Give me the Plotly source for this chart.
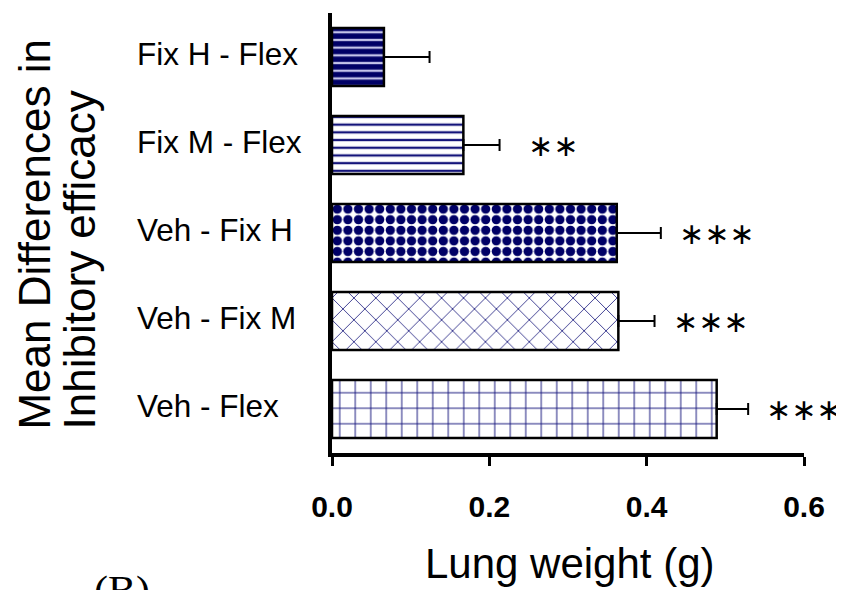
import plotly.graph_objects as go

categories = ["Fix H - Flex", "Fix M - Flex", "Veh - Fix H", "Veh - Fix M", "Veh - Flex"]
means = [0.066, 0.167, 0.362, 0.364, 0.489]
errors = [0.058, 0.046, 0.056, 0.046, 0.040]
significance = ["", "\u2217\u2217", "\u2217\u2217\u2217", "\u2217\u2217\u2217", "\u2217\u2217\u2217"]
x_ticks = [0.0, 0.2, 0.4, 0.6]
x_tick_labels = ["0.0", "0.2", "0.4", "0.6"]
y_title_lines = ["Mean Differences in", "Inhibitory efficacy"]

NAVY = "#000066"
pat_shapes = ["-", "-", ".", "x", "+"]
pat_fg = ["#c4c4ea", "#14147a", NAVY, "#3a3a90", "#14147a"]
pat_bg = [NAVY, "white", "white", "white", "white"]
pat_size = [7.7, 7.7, 10.6, 15.5, 15.5]
pat_sol = [0.3, 0.3, 0.6, 0.12, 0.12]

# the page body has an 8px margin, so the figure is 8px smaller than the window
W, H = 836, 582
L, R, T, B = 324, 40, 5, 137

fig = go.Figure()
fig.add_trace(go.Bar(
    y=categories, x=means, orientation="h", width=0.66,
    marker=dict(
        color="white",
        line=dict(color="black", width=2.5),
        pattern=dict(shape=pat_shapes, fgcolor=pat_fg, bgcolor=pat_bg,
                     size=pat_size, solidity=pat_sol, fillmode="replace"),
    ),
    error_x=dict(type="data", symmetric=False, array=errors,
                 arrayminus=[0] * len(errors), color="black",
                 thickness=2, width=6),
    showlegend=False,
))

annotations = []
for cat in categories:
    annotations.append(dict(
        x=-0.418, xref="paper", y=cat, yref="y", text=cat, showarrow=False,
        xanchor="left", yanchor="middle", yshift=3,
        font=dict(family="Liberation Sans, Arial", size=31.5, color="black"),
    ))
for cat, m, e, s in zip(categories, means, errors, significance):
    if s:
        annotations.append(dict(
            x=m + e, xref="x", y=cat, yref="y", text=s, showarrow=False,
            xanchor="left", yanchor="middle", xshift=16 if len(s) > 2 else 26,
            font=dict(family="DejaVu Sans", size=30, color="black"),
        ))
for line_text, xp in zip(y_title_lines, [-0.631, -0.536]):
    annotations.append(dict(
        x=xp, xref="paper", y=0.048, yref="paper", textangle=-90,
        text=line_text, showarrow=False, xanchor="center", yanchor="bottom",
        font=dict(family="Liberation Sans, Arial", size=44, color="black"),
    ))
annotations.append(dict(
    x=0.504, xref="paper", y=-0.252, yref="paper", text="Lung weight (g)",
    showarrow=False, xanchor="center", yanchor="middle",
    font=dict(family="Liberation Sans, Arial", size=42, color="black"),
))
annotations.append(dict(
    x=-0.445, xref="paper", y=-0.257, yref="paper", text="(B)",
    showarrow=False, xanchor="center", yanchor="top",
    font=dict(family="Liberation Serif, Times New Roman", size=42, color="black"),
))

fig.update_layout(
    width=W, height=H,
    margin=dict(l=L, r=R, t=T, b=B),
    paper_bgcolor="white", plot_bgcolor="white",
    annotations=annotations,
    xaxis=dict(range=[0, 0.6], tickvals=x_ticks, ticktext=x_tick_labels,
               showgrid=False, zeroline=False, showline=True, linecolor="black",
               linewidth=4, ticks="outside", ticklen=9, tickwidth=3,
               tickcolor="black", ticklabelstandoff=15,
               tickfont=dict(family="Liberation Sans, Arial", size=30,
                             color="black", weight="bold")),
    yaxis=dict(autorange=False, range=[4.5, -0.5], showgrid=False,
               zeroline=False, showline=True, linecolor="black", linewidth=4,
               showticklabels=False, ticks=""),
)

fig.write_html("out.html")
